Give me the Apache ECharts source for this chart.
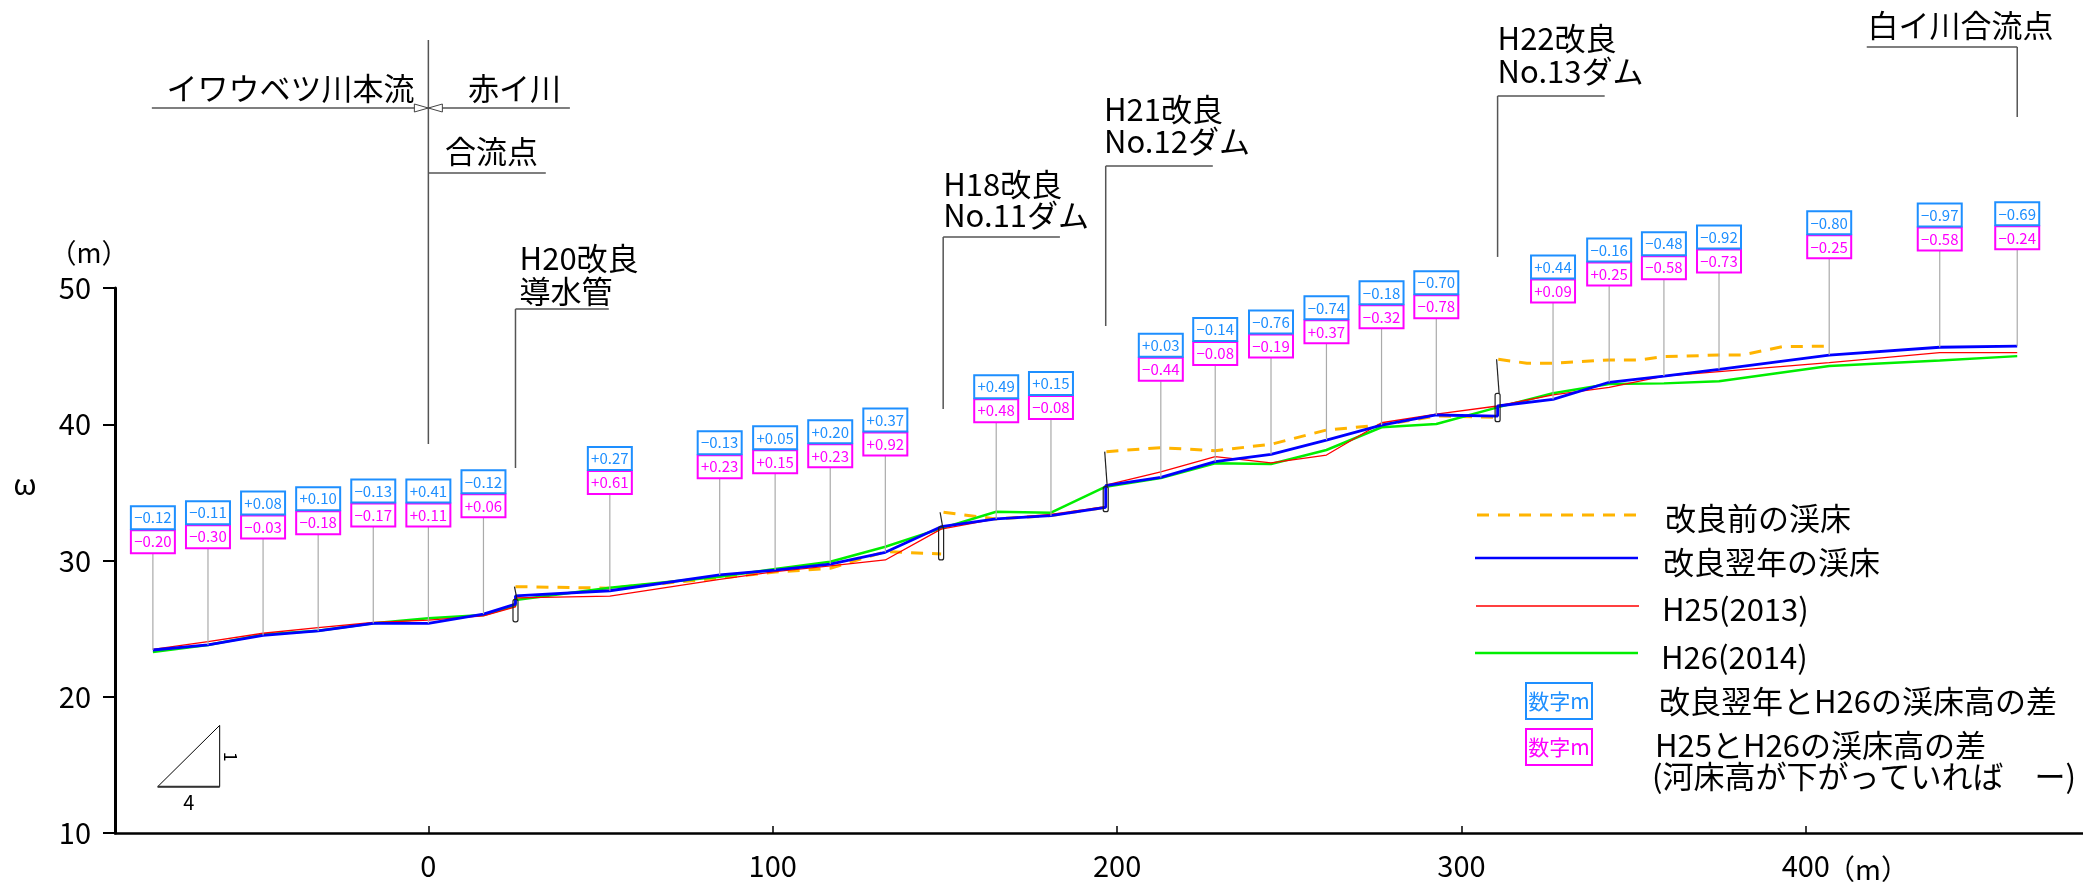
<!DOCTYPE html>
<html><head><meta charset="utf-8">
<script src="https://cdn.jsdelivr.net/npm/echarts@6/dist/echarts.min.js"></script>
<style>html,body{margin:0;padding:0;background:#fff}#c{width:2083px;height:885px}</style>
</head><body><div id="c"></div>
<script>
// ---------------- data ----------------
const xTicks = [0, 100, 200, 300, 400];
const yTicks = [10, 20, 30, 40, 50];

// 改良翌年の渓床 (after improvement)
const afterX = [-80,-64,-48,-32,-16,0,16,25.3,25.3,52.7,84.6,100.7,116.7,132.7,148.9,164.9,180.8,196.7,196.7,212.7,228.5,244.7,260.8,276.8,292.7,310.5,310.5,326.6,342.9,358.8,374.8,406.8,438.9,461.4];
const afterY = [23.43,23.80,24.51,24.83,25.39,25.39,26.07,26.80,27.40,27.78,28.94,29.30,29.74,30.60,32.48,33.05,33.29,33.90,35.49,36.10,37.25,37.79,38.84,39.94,40.68,40.60,41.34,41.83,43.08,43.54,44.03,45.08,45.65,45.74];

// H25(2013)
const h25X = [-80,-64,-48,-32,-16,0,16,25.3,25.3,52.7,84.6,100.7,116.7,132.7,148.9,164.9,180.8,196.7,196.7,212.7,228.5,244.7,260.8,276.8,292.7,310.5,326.6,342.9,358.8,374.8,406.8,438.9,461.4];
const h25Y = [23.48,24.04,24.66,25.07,25.45,25.63,25.93,26.60,27.25,27.39,28.62,29.18,29.60,30.04,32.30,33.05,33.39,33.95,35.54,36.51,37.62,37.17,37.74,40.11,40.75,41.34,42.15,42.71,43.54,43.86,44.52,45.25,45.25];

// H26(2014)
const h26X = [-80,-64,-48,-32,-16,0,16,25.3,25.3,52.7,84.6,100.7,116.7,132.7,148.9,164.9,180.8,196.7,212.7,228.5,244.7,260.8,276.8,292.7,310.5,326.6,342.9,358.8,374.8,406.8,438.9,461.4];
const h26Y = [23.28,23.80,24.56,24.85,25.39,25.76,26.00,26.70,27.10,28.00,28.81,29.38,29.91,31.01,32.36,33.58,33.51,35.42,36.05,37.13,37.08,38.11,39.78,40.02,41.24,42.27,42.95,43.00,43.15,44.28,44.67,45.00];

// 改良前の渓床 (before improvement) — '-' = break at a dam
const beforeX = [25.3,52.7,84.6,100.7,116.7,132.7,148.9,149.2,149.6,164.9,180.8,196.5,196.6,196.9,212.7,228.5,244.7,260.8,276.8,292.7,310.3,310.5,310.7,319,326.6,342.9,351.5,358.8,374.8,381.5,393.2,407.6];
const beforeY = [28.08,27.97,28.70,29.15,29.43,30.65,30.48,'-',33.54,33.05,33.30,33.90,'-',37.99,38.28,38.06,38.53,39.58,39.94,40.61,40.51,'-',44.77,44.48,44.48,44.72,44.72,44.96,45.08,45.08,45.69,45.74];

// measurement stations and differences
const stationX = [-80,-64,-48,-32,-16,0,16,52.7,84.6,100.7,116.7,132.7,164.9,180.8,212.7,228.5,244.7,260.8,276.8,292.7,326.6,342.9,358.8,374.8,406.8,438.9,461.4];
const diffAfterH26 = [-0.12,-0.11,0.08,0.10,-0.13,0.41,-0.12,0.27,-0.13,0.05,0.20,0.37,0.49,0.15,0.03,-0.14,-0.76,-0.74,-0.18,-0.70,0.44,-0.16,-0.48,-0.92,-0.80,-0.97,-0.69];
const diffH25H26 = [-0.20,-0.30,-0.03,-0.18,-0.17,0.11,0.06,0.61,0.23,0.15,0.23,0.92,0.48,-0.08,-0.44,-0.08,-0.19,0.37,-0.32,-0.78,0.09,0.25,-0.58,-0.73,-0.25,-0.58,-0.24];

// dams (crest, top of old bed, base)
const damX = [25.3, 148.9, 196.7, 310.5];
const damCrest = [27.15, 32.48, 35.42, 42.27];
const damTop = [28.08, 33.54, 37.99, 44.77];
const damBase = [25.50, 30.04, 33.58, 40.19];

// ---------------- chart ----------------
const FONT = "'Noto Sans CJK JP','Noto Sans',sans-serif";
const LABEL_RISE = 7.1;
const BLUE_BOX = '#1e8fff', MAG = '#ff00ff';
const fmt = v => (v >= 0 ? '+' : '\u2212') + Math.abs(v).toFixed(2);
const bedAt = x => { let v = null; afterX.forEach((ax, i) => { if (ax === x) v = afterY[i]; }); return v; };
const pair = (xs, ys) => xs.map((x, i) => [x, ys[i]]);

const chart = echarts.init(document.getElementById('c'));

function annotations(params, api) {
  const c = p => api.coord(p);
  const ln = (a, b, w, col) => ({type:'line', shape:{x1:a[0], y1:a[1], x2:b[0], y2:b[1]}, style:{stroke: col || '#555', lineWidth: w || 1.5}});
  const tx = (p, text, align, size) => ({type:'text', x:p[0], y:p[1], style:{text, fill:'#000', fontSize: size || 31, fontFamily: FONT, align: align || 'left', verticalAlign:'middle'}});
  const ch = [];
  // junction
  ch.push(ln(c([0, 68.2]), c([0, 38.55])));
  ch.push(ln(c([-80.3, 63.21]), c([41.1, 63.21])));
  ch.push(tx(c([-4, 64.68]), 'イワウベツ川本流', 'right'));
  ch.push(tx(c([11.5, 64.68]), '赤イ川', 'left'));
  ch.push(tx(c([4.8, 60.06]), '合流点', 'left'));
  ch.push(ln(c([0, 58.44]), c([34.1, 58.44])));
  const j = c([0, 63.21]);
  ch.push({type:'polygon', shape:{points:[[j[0]-14, j[1]-4],[j[0], j[1]],[j[0]-14, j[1]+4]]}, style:{fill:'#fff', stroke:'#444', lineWidth:1}});
  ch.push({type:'polygon', shape:{points:[[j[0]+14, j[1]-4],[j[0], j[1]],[j[0]+14, j[1]+4]]}, style:{fill:'#fff', stroke:'#444', lineWidth:1}});
  // H20
  ch.push(ln(c([25.3, 36.79]), c([25.3, 48.46])));
  ch.push(ln(c([25.3, 48.46]), c([52.4, 48.46])));
  ch.push(tx(c([26.5, 52.2]), 'H20改良'));
  ch.push(tx(c([26.5, 49.78]), '導水管'));
  // H18
  ch.push(ln(c([149.5, 41.12]), c([149.5, 53.74])));
  ch.push(ln(c([149.5, 53.74]), c([183.4, 53.74])));
  ch.push(tx(c([149.5, 57.63]), 'H18改良'));
  ch.push(tx(c([149.5, 55.36]), 'No.11ダム'));
  // H21
  ch.push(ln(c([196.7, 47.21]), c([196.7, 58.95])));
  ch.push(ln(c([196.7, 58.95]), c([227.8, 58.95])));
  ch.push(tx(c([196.2, 63.14]), 'H21改良'));
  ch.push(tx(c([196.2, 60.79]), 'No.12ダム'));
  // H22
  ch.push(ln(c([310.5, 52.28]), c([310.5, 64.09])));
  ch.push(ln(c([310.5, 64.09]), c([341.6, 64.09])));
  ch.push(tx(c([310.5, 68.35]), 'H22改良'));
  ch.push(tx(c([310.5, 65.93]), 'No.13ダム'));
  // 白イ川合流点
  ch.push(ln(c([461.4, 62.55]), c([461.4, 67.69])));
  ch.push(ln(c([417.7, 67.69]), c([461.4, 67.69])));
  ch.push(tx(c([417.9, 69.3]), '白イ川合流点'));
  // slope triangle 1:4
  ch.push({type:'polygon', shape:{points:[c([-78.6, 13.4]), c([-60.6, 13.4]), c([-60.6, 17.9])]}, style:{fill:'none', stroke:'#000', lineWidth:1}});
  ch.push(ln(c([-78.6, 13.4]), c([-60.6, 13.4]), 2, '#333'));
  ch.push(tx(c([-69.6, 12.25]), '4', 'center', 20));
  const p1 = c([-57.4, 15.6]);
  ch.push({type:'text', x:p1[0], y:p1[1], rotation:-Math.PI/2, style:{text:'1', fill:'#000', fontSize:18, fontFamily:FONT, align:'center', verticalAlign:'middle'}});
  return {type:'group', children: ch};
}

function stationBoxes(params, api) {
  const x = api.value(0), bed = api.value(1);
  const pBed = api.coord([x, bed]);
  const pTop = api.coord([x, bed + LABEL_RISE]);
  const w = 44, h = 23, cx = pBed[0], b = pTop[1];
  return {type:'group', children:[
    {type:'line', shape:{x1:cx, y1:b, x2:cx, y2:pBed[1]}, style:{stroke:'#aaaaaa', lineWidth:1.2}},
    {type:'rect', shape:{x:cx - w/2, y:b - h, width:w, height:h}, style:{fill:'#fff', stroke:MAG, lineWidth:2}},
    {type:'text', x:cx, y:b - h/2, style:{text:fmt(api.value(3)), fill:MAG, fontSize:15, fontFamily:FONT, align:'center', verticalAlign:'middle'}},
    {type:'rect', shape:{x:cx - w/2, y:b - 2*h - 1, width:w, height:h}, style:{fill:'#fff', stroke:BLUE_BOX, lineWidth:2}},
    {type:'text', x:cx, y:b - 1.5*h - 1, style:{text:fmt(api.value(2)), fill:BLUE_BOX, fontSize:15, fontFamily:FONT, align:'center', verticalAlign:'middle'}}
  ]};
}

function dams(params, api) {
  const x = api.value(0);
  const pC = api.coord([x, api.value(1)]);
  const pT = api.coord([x, api.value(2)]);
  const pB = api.coord([x, api.value(3)]);
  return {type:'group', children:[
    {type:'polyline', shape:{points:[[pT[0]-1, pT[1]], [pC[0]+1.5, pC[1]]]}, style:{stroke:'#222', lineWidth:1.2, fill:null}},
    {type:'rect', shape:{x:pC[0]-2.5, y:pC[1], width:5, height:pB[1]-pC[1], r:2}, style:{fill:'transparent', stroke:'#222', lineWidth:1.2}}
  ]};
}

const legendTexts = {fill:'#000', fontSize:31, fontFamily:FONT, verticalAlign:'middle'};
const option = {
  animation: false,
  backgroundColor: '#fff',
  grid: {left:115, right:0, top:288, bottom:52},
  xAxis: {
    type:'value', min:-91, max:480.5,
    axisLine:{onZero:false, lineStyle:{color:'#000', width:2.5}},
    axisTick:{show:true, inside:true, length:7, customValues:xTicks, lineStyle:{color:'#000', width:1.5}},
    axisLabel:{customValues:xTicks, fontSize:29, color:'#000', fontFamily:FONT, margin:18},
    splitLine:{show:false}
  },
  yAxis: {
    type:'value', min:yTicks[0], max:yTicks[yTicks.length-1], interval:10,
    axisLine:{show:true, onZero:false, lineStyle:{color:'#000', width:3}},
    axisTick:{show:true, length:12, lineStyle:{color:'#000', width:2}},
    axisLabel:{fontSize:29, color:'#000', fontFamily:FONT, margin:24},
    splitLine:{show:false}
  },
  series: [
    {name:'改良前の渓床', type:'line', data:pair(beforeX, beforeY), showSymbol:false, symbol:'none', z:2, connectNulls:false,
     lineStyle:{color:'#ffb400', width:3, type:[12, 9]}},
    {name:'H26(2014)', type:'line', data:pair(h26X, h26Y), symbol:'none', z:3, lineStyle:{color:'#00ee00', width:2.5}},
    {name:'H25(2013)', type:'line', data:pair(h25X, h25Y), symbol:'none', z:4, lineStyle:{color:'#ff0000', width:1.3}},
    {name:'改良翌年の渓床', type:'line', data:pair(afterX, afterY), symbol:'none', z:5, lineStyle:{color:'#0000ff', width:2.8}},
    {name:'dams', type:'custom', renderItem:dams, clip:false, z:6,
     data: damX.map((x, i) => [x, damCrest[i], damTop[i], damBase[i]]), encode:{x:0, y:1}},
    {name:'boxes', type:'custom', renderItem:stationBoxes, clip:false, z:7,
     data: stationX.map((x, i) => [x, bedAt(x), diffAfterH26[i], diffH25H26[i]]), encode:{x:0, y:1}},
    {name:'annotations', type:'custom', renderItem:annotations, clip:false, z:8, silent:true,
     data:[[0, 30]], encode:{x:0, y:1}}
  ],
  graphic: [
    {type:'text', x:89, y:253, style:{text:'（m）', fill:'#000', fontSize:27, fontFamily:FONT, align:'center', verticalAlign:'middle'}},
    {type:'text', x:25, y:484, style:{text:'ω', fill:'#000', fontSize:30, fontFamily:FONT, align:'center', verticalAlign:'middle'}},
    {type:'text', x:1827, y:869, style:{text:'（m）', fill:'#000', fontSize:28, fontFamily:FONT, align:'left', verticalAlign:'middle'}},
    // legend
    {type:'line', shape:{x1:1477, y1:515, x2:1640, y2:515}, style:{stroke:'#ffb400', lineWidth:3, lineDash:[12, 9]}},
    {type:'text', x:1665, y:518, style:Object.assign({text:'改良前の渓床'}, legendTexts)},
    {type:'line', shape:{x1:1475, y1:558, x2:1638, y2:558}, style:{stroke:'#0000ff', lineWidth:2.5}},
    {type:'text', x:1663, y:562, style:Object.assign({text:'改良翌年の渓床'}, legendTexts)},
    {type:'line', shape:{x1:1476, y1:606, x2:1639, y2:606}, style:{stroke:'#ff0000', lineWidth:1.3}},
    {type:'text', x:1662, y:609, style:Object.assign({text:'H25(2013)'}, legendTexts)},
    {type:'line', shape:{x1:1475, y1:653, x2:1638, y2:653}, style:{stroke:'#00ee00', lineWidth:2.5}},
    {type:'text', x:1661, y:657, style:Object.assign({text:'H26(2014)'}, legendTexts)},
    {type:'rect', shape:{x:1526, y:683, width:66, height:36}, style:{fill:'#fff', stroke:BLUE_BOX, lineWidth:2}},
    {type:'text', x:1559, y:701, style:{text:'数字m', fill:BLUE_BOX, fontSize:21, fontFamily:FONT, align:'center', verticalAlign:'middle'}},
    {type:'text', x:1659, y:701, style:Object.assign({text:'改良翌年とH26の渓床高の差'}, legendTexts)},
    {type:'rect', shape:{x:1526, y:729, width:66, height:36}, style:{fill:'#fff', stroke:MAG, lineWidth:2}},
    {type:'text', x:1559, y:747, style:{text:'数字m', fill:MAG, fontSize:21, fontFamily:FONT, align:'center', verticalAlign:'middle'}},
    {type:'text', x:1655, y:745, style:Object.assign({text:'H25とH26の渓床高の差'}, legendTexts)},
    {type:'text', x:1652, y:776, style:Object.assign({text:'(河床高が下がっていれば　ー)'}, legendTexts)}
  ]
};
chart.setOption(option);
</script>
</body></html>
